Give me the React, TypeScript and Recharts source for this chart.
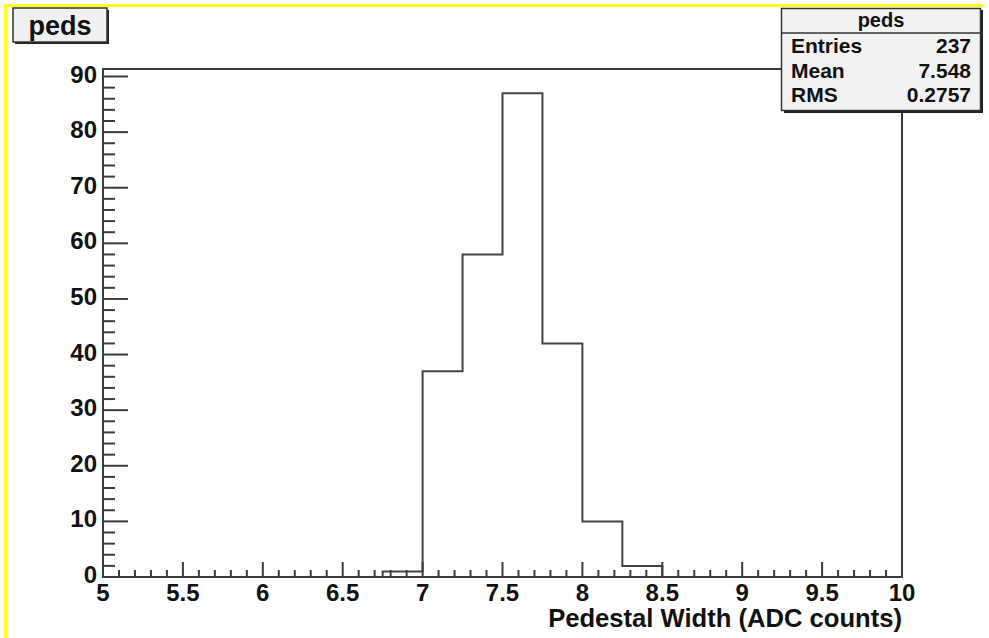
import { ComposedChart, Line, XAxis, YAxis, ReferenceArea } from 'recharts'

// histogram "peds": 20 bins of 0.25 from 5 to 10
const binEdges = [5, 5.25, 5.5, 5.75, 6, 6.25, 6.5, 6.75, 7, 7.25, 7.5, 7.75, 8, 8.25, 8.5, 8.75, 9, 9.25, 9.5, 9.75, 10]
const binCounts = [0, 0, 0, 0, 0, 0, 0, 1, 37, 58, 87, 42, 10, 2, 0, 0, 0, 0, 0, 0]

const xMajorTicks = [5, 5.5, 6, 6.5, 7, 7.5, 8, 8.5, 9, 9.5, 10]
const yMajorTicks = [0, 10, 20, 30, 40, 50, 60, 70, 80, 90]

const statsRows = [
  { name: 'Entries', value: '237' },
  { name: 'Mean', value: '7.548' },
  { name: 'RMS', value: '0.2757' },
]

const X_MIN = 5
const X_MAX = 10
const Y_MAX = 91.35

const FONT = '"Liberation Sans", Arial, Helvetica, sans-serif'
const INK = '#3c3c3c'

// step line needs a closing point at the last edge
const data = binEdges.map((x, i) => ({ x, count: i < binCounts.length ? binCounts[i] : binCounts[binCounts.length - 1] }))

// minor ticks: 5 divisions per major on x, 5 per major on y
const xTicks: number[] = []
for (let i = 0; i < xMajorTicks.length - 1; i++) {
  const a = xMajorTicks[i]
  const step = (xMajorTicks[i + 1] - a) / 5
  for (let k = 0; k < 5; k++) xTicks.push(Math.round((a + k * step) * 1000) / 1000)
}
xTicks.push(xMajorTicks[xMajorTicks.length - 1])

const yTicks: number[] = []
for (let i = 0; i < yMajorTicks.length; i++) {
  for (let k = 0; k < 5; k++) {
    const v = yMajorTicks[i] + k * 2
    if (v <= Y_MAX) yTicks.push(v)
  }
}

const isXMajor = (v: number) => xMajorTicks.includes(v)
const isYMajor = (v: number) => yMajorTicks.includes(v)

const XTick = (props: any) => {
  const { x, y, payload } = props
  const major = isXMajor(payload.value)
  return (
    <g>
      <line x1={x} x2={x} y1={y} y2={y - (major ? 15 : 7)} stroke={INK} strokeWidth={2} />
      {major && (
        <text x={x} y={y + 24} textAnchor="middle" fontFamily={FONT} fontWeight="bold" fontSize={24} fill="#111">
          {String(payload.value)}
        </text>
      )}
    </g>
  )
}

const YTick = (props: any) => {
  const { x, y, payload } = props
  const major = isYMajor(payload.value)
  return (
    <g>
      <line x1={x} x2={x + (major ? 25 : 12)} y1={y} y2={y} stroke={INK} strokeWidth={2} />
      {major && (
        <text x={x - 6} y={y + 6} textAnchor="end" fontFamily={FONT} fontWeight="bold" fontSize={24} fill="#111">
          {String(payload.value)}
        </text>
      )}
    </g>
  )
}

function Overlay() {
  return (
    <svg width={989} height={638} style={{ position: 'absolute', left: 0, top: 0, pointerEvents: 'none' }}>
      {/* yellow canvas edge */}
      <rect x={4} y={4} width={3} height={634} fill="#ffff1a" />
      <rect x={4} y={4} width={979} height={3} fill="#ffff1a" />

      {/* title box */}
      <rect x={15} y={10} width={94} height={34} fill="#222" />
      <rect x={13} y={8} width={94} height={34} fill="#f0f0f0" stroke="#333" strokeWidth={1.5} />
      <text x={60} y={35} textAnchor="middle" fontFamily={FONT} fontWeight="bold" fontSize={27} fill="#111">
        peds
      </text>

      {/* stats box */}
      <rect x={784} y={10} width={199} height={103} fill="#222" />
      <rect x={781.5} y={8.5} width={199} height={102} fill="#f2f2f2" stroke="#333" strokeWidth={1.5} />
      <line x1={781.5} x2={980.5} y1={33} y2={33} stroke="#333" strokeWidth={1.5} />
      <text x={881} y={27} textAnchor="middle" fontFamily={FONT} fontWeight="bold" fontSize={20} fill="#111">
        peds
      </text>
      {statsRows.map((r, i) => (
        <g key={r.name}>
          <text x={791} y={53 + i * 24.5} fontFamily={FONT} fontWeight="bold" fontSize={21} fill="#111">
            {r.name}
          </text>
          <text x={971} y={53 + i * 24.5} textAnchor="end" fontFamily={FONT} fontWeight="bold" fontSize={21} fill="#111">
            {r.value}
          </text>
        </g>
      ))}

      {/* x axis title */}
      <text x={902} y={627} textAnchor="end" fontFamily={FONT} fontWeight="bold" fontSize={25.6} fill="#111">
        Pedestal Width (ADC counts)
      </text>
    </svg>
  )
}

export default function App() {
  return (
    <div style={{ position: 'absolute', left: 0, top: 0, width: 989, height: 638, background: '#fff' }}>
      <ComposedChart width={989} height={638} data={data} margin={{ top: 69, right: 87, bottom: 1, left: 3 }}>
        <XAxis
          dataKey="x"
          type="number"
          domain={[X_MIN, X_MAX]}
          ticks={xTicks}
          interval={0}
          height={60}
          tickSize={0}
          tickMargin={0}
          tickLine={false}
          axisLine={{ stroke: INK, strokeWidth: 2 }}
          tick={XTick}
          allowDataOverflow
        />
        <YAxis
          type="number"
          domain={[0, Y_MAX]}
          ticks={yTicks}
          interval={0}
          width={100}
          tickSize={0}
          tickMargin={0}
          tickLine={false}
          axisLine={{ stroke: INK, strokeWidth: 2 }}
          tick={YTick}
          allowDataOverflow
        />
        <ReferenceArea x1={X_MIN} x2={X_MAX} y1={0} y2={Y_MAX} fill="none" stroke={INK} strokeWidth={2} ifOverflow="visible" />
        <Line
          dataKey="count"
          type="stepAfter"
          stroke="#444"
          strokeWidth={2}
          dot={false}
          activeDot={false}
          isAnimationActive={false}
        />
      </ComposedChart>
      <Overlay />
    </div>
  )
}
